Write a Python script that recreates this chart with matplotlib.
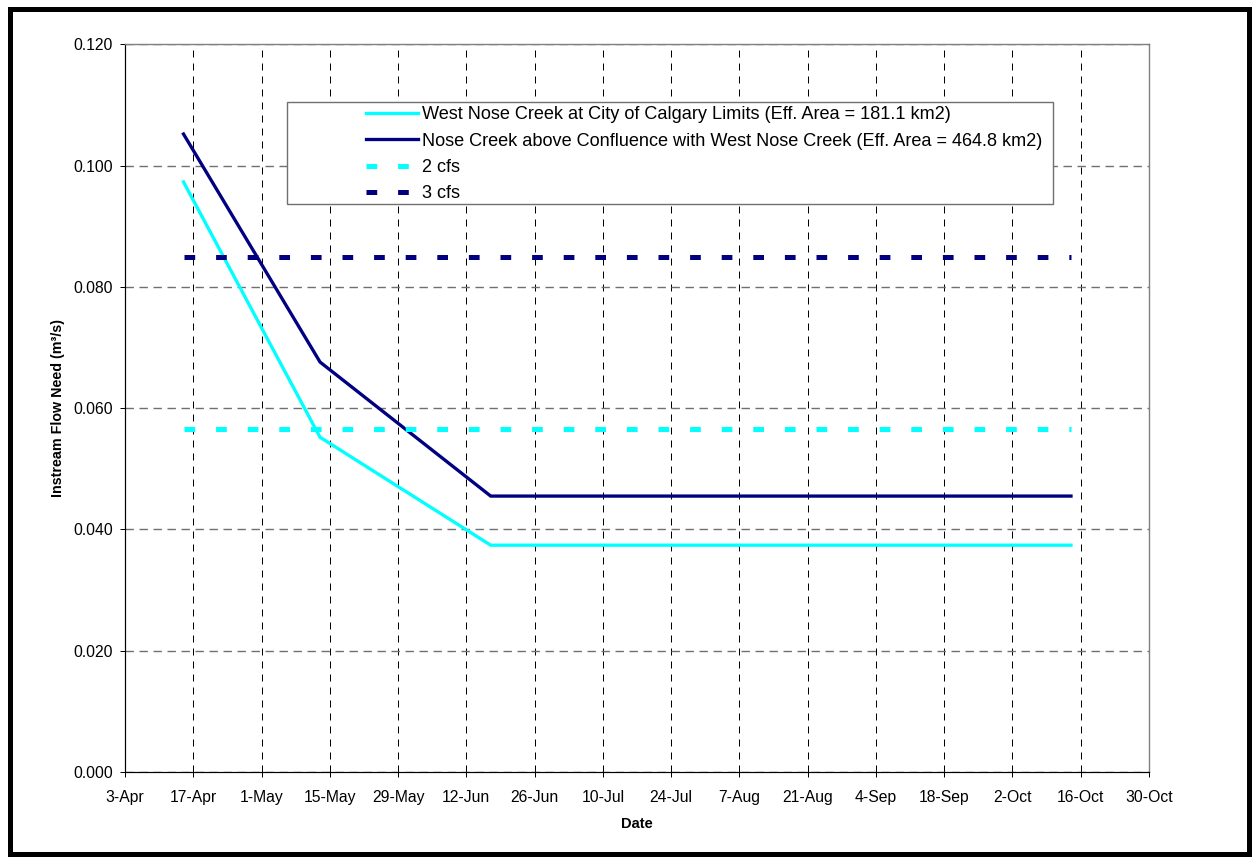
import matplotlib
matplotlib.use("Agg")
import matplotlib.pyplot as plt
from matplotlib.patches import Rectangle
import pandas as pd

# ---- data -------------------------------------------------------------
year = 2005
tick_labels = ["3-Apr", "17-Apr", "1-May", "15-May", "29-May", "12-Jun", "26-Jun",
               "10-Jul", "24-Jul", "7-Aug", "21-Aug", "4-Sep", "18-Sep", "2-Oct",
               "16-Oct", "30-Oct"]
y_ticks = [0.000, 0.020, 0.040, 0.060, 0.080, 0.100, 0.120]

dates = ["15-Apr", "13-May", "17-Jun", "14-Oct"]
west_nose = [0.0973, 0.0552, 0.0374, 0.0374]     # m3/s
nose_creek = [0.1052, 0.0676, 0.0455, 0.0455]    # m3/s
threshold_dates = ["15-Apr", "14-Oct"]
cfs2 = [0.0566, 0.0566]
cfs3 = [0.0850, 0.0850]

labels = ["West Nose Creek at City of Calgary Limits (Eff. Area = 181.1 km2)",
          "Nose Creek above Confluence with West Nose Creek (Eff. Area = 464.8 km2)",
          "2 cfs", "3 cfs"]


def to_dt(items):
    return pd.to_datetime([f"{s}-{year}" for s in items], format="%d-%b-%Y")


# ---- figure -----------------------------------------------------------
plt.rcParams["font.family"] = ["Liberation Sans", "DejaVu Sans"]
W, H = 1258, 863
fig = plt.figure(figsize=(W / 100, H / 100), dpi=100)
ax = fig.add_axes([125 / W, (H - 772) / H, (1149 - 125) / W, (772 - 44.3) / H])

px = 0.72  # points per pixel

CYAN = "#00FFFF"
NAVY = "#000080"

l1, = ax.plot(to_dt(dates), west_nose, color=CYAN, lw=3.3 * px, zorder=3,
              solid_joinstyle="miter")
l2, = ax.plot(to_dt(dates), nose_creek, color=NAVY, lw=3.3 * px, zorder=3,
              solid_joinstyle="miter")
dash_lw = 5 * px
dash = (0, (10.7 / 5, 20.9 / 5))
l3, = ax.plot(to_dt(threshold_dates), cfs2, color=CYAN, lw=dash_lw, linestyle=dash,
              dash_capstyle="butt", zorder=3)
l4, = ax.plot(to_dt(threshold_dates), cfs3, color=NAVY, lw=dash_lw, linestyle=dash,
              dash_capstyle="butt", zorder=3)

# axes limits / ticks
tick_pos = to_dt(tick_labels)
ax.set_xlim(tick_pos[0], tick_pos[-1])
ax.set_xticks(tick_pos)
ax.set_xticklabels(tick_labels, fontsize=11.3)
ax.set_ylim(0, 0.12)
ax.set_yticks(y_ticks)
ax.set_yticklabels([f"{v:.3f}" for v in y_ticks], fontsize=11.3)

ax.tick_params(axis="x", direction="inout", length=9 * px, width=1 * px, pad=13.5 * px)
ax.tick_params(axis="y", direction="out", length=5 * px, width=1 * px, pad=7 * px)

# grid
ax.set_axisbelow(True)
ax.xaxis.grid(True, color="black", lw=1.0 * px, linestyle=(0, (7, 6)))
ax.yaxis.grid(True, color="#707070", lw=1.4 * px, linestyle=(0, (6, 4)))

for side in ("left", "bottom"):
    ax.spines[side].set_color("black")
    ax.spines[side].set_linewidth(1.2 * px)
for side in ("top", "right"):
    ax.spines[side].set_color("#808080")
    ax.spines[side].set_linewidth(1.4 * px)

ax.set_xlabel("Date", fontsize=10.5, fontweight="bold", labelpad=12 * px)
ax.set_ylabel("Instream Flow Need (m\u00b3/s)", fontsize=10.3, fontweight="bold",
              labelpad=8 * px)

# legend with a square frame
fig.patches.append(Rectangle((287 / W, 1 - 204 / H), (1053 - 287) / W, (204 - 102) / H,
                             transform=fig.transFigure, facecolor="white",
                             edgecolor="#707070", lw=1.4 * px, zorder=4))
fs_leg = 13.05
fs_px = fs_leg / px
leg = fig.legend([l1, l2, l3, l4], labels, loc="upper left",
                 bbox_to_anchor=(366 / W, 1 - 106.5 / H), frameon=False,
                 fontsize=fs_leg, borderpad=0, borderaxespad=0,
                 handlelength=52 / fs_px, handletextpad=4.5 / fs_px,
                 labelspacing=0.51)
leg.set_zorder(5)

# outer border of the figure
fig.patches.append(Rectangle((9.5 / W, 9.5 / H), (W - 19) / W, (H - 19) / H,
                             transform=fig.transFigure, facecolor="none",
                             edgecolor="black", lw=5 * px, zorder=6))

fig.savefig("out.png", dpi=100)
